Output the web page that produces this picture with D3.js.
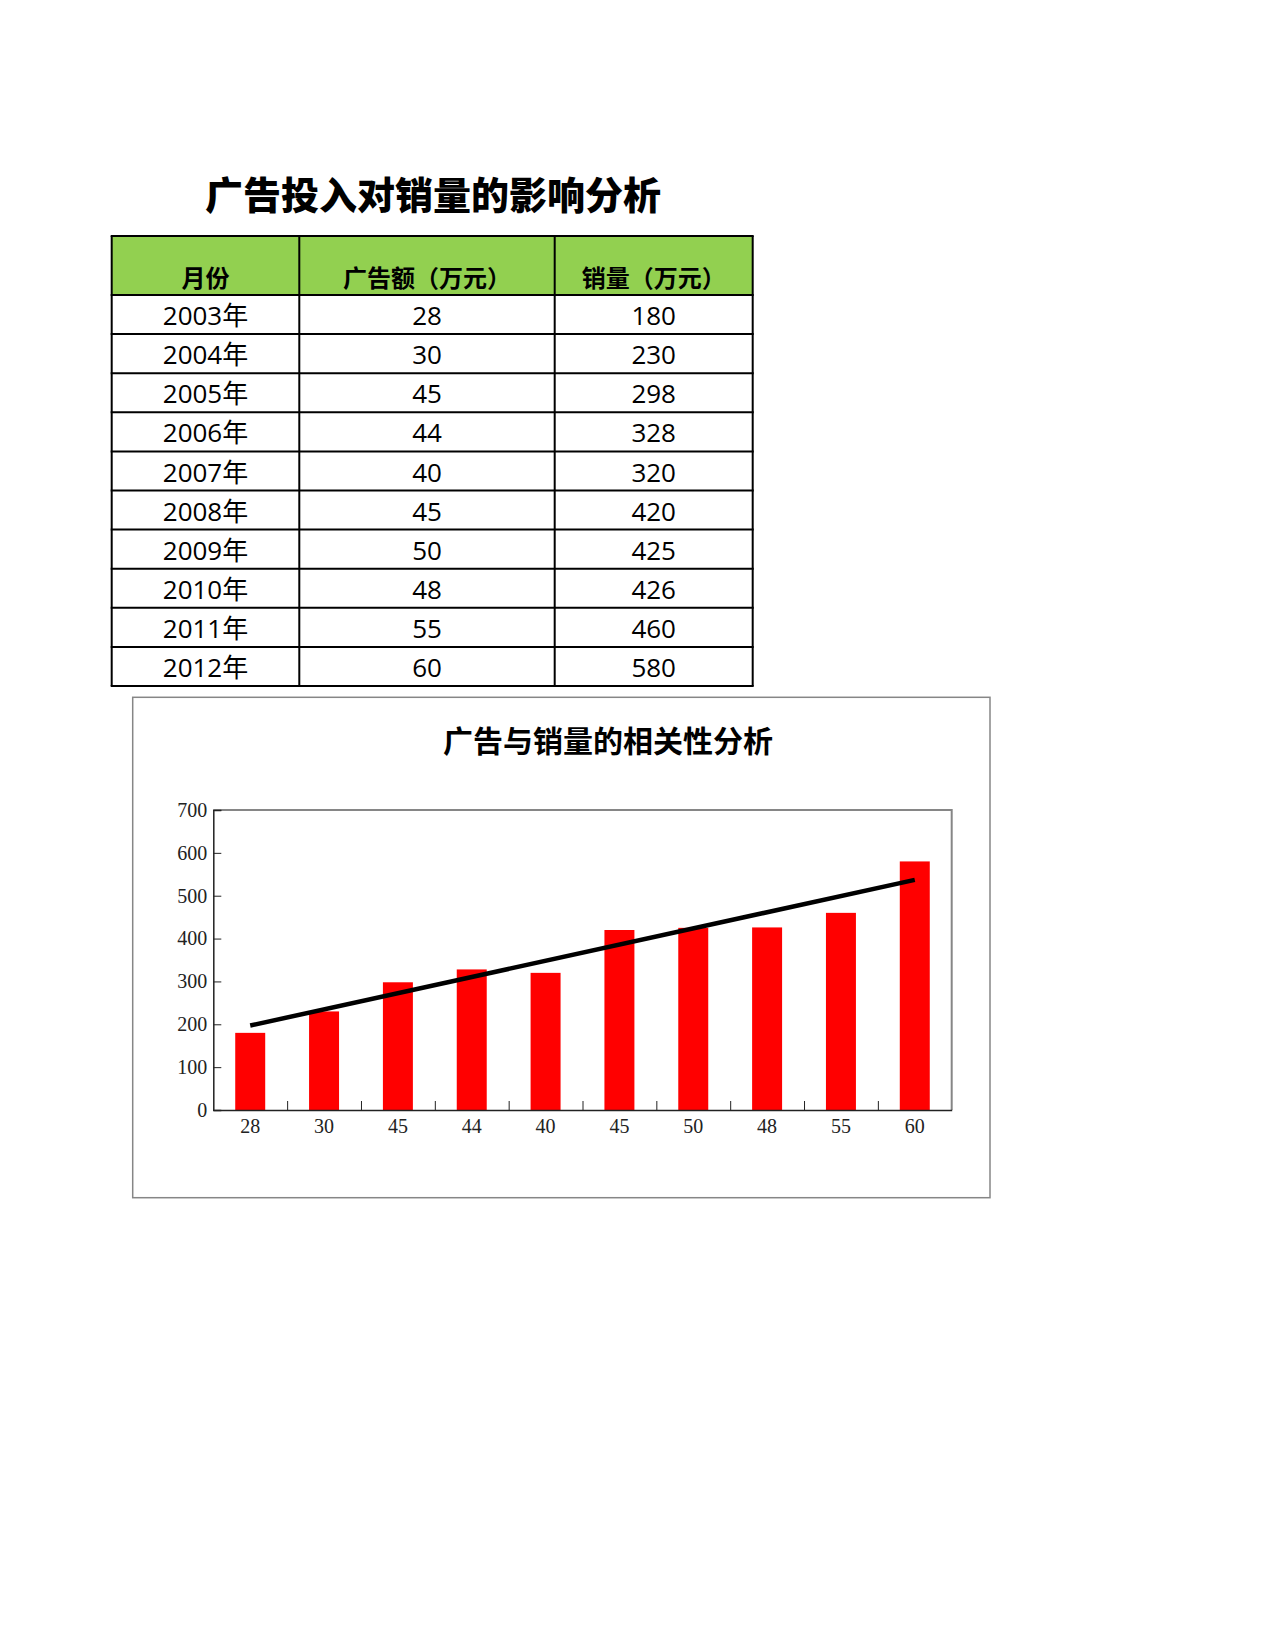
<!DOCTYPE html>
<html>
<head>
<meta charset="utf-8">
<script src="https://cdn.jsdelivr.net/npm/d3@7"></script>
<style>
    body { margin: 0; background: #fff; }
    svg { display: block; }
</style>
</head>
<body>
<div id="page"></div>
<script>
/**
 * Advertising vs sales sheet + chart
 */
var years = ["2003年", "2004年", "2005年", "2006年", "2007年", "2008年", "2009年", "2010年", "2011年", "2012年"];
var adSpend = [28, 30, 45, 44, 40, 45, 50, 48, 55, 60];
var sales = [180, 230, 298, 328, 320, 420, 425, 426, 460, 580];
var headers = ["月份", "广告额（万元）", "销量（万元）"];
var yTicks = [0, 100, 200, 300, 400, 500, 600, 700];
// trend line end values
var trendEnds = [197, 537];

(function () {

    var W = 1275, H = 1650;
    var svg = d3.select("#page").append("svg")
        .attr("width", W)
        .attr("height", H);

    svg.append("rect").attr("width", W).attr("height", H).attr("fill", "#fff");

    var cjk = "'Noto Sans CJK SC', 'Noto Sans', sans-serif";
    var cellFont = "'Open Sans', 'Noto Sans CJK SC', sans-serif";

    // sheet title
    svg.append("text")
        .attr("x", 433)
        .attr("y", 209)
        .attr("text-anchor", "middle")
        .style("font-family", cjk)
        .style("font-weight", 900)
        .style("font-size", "38px")
        .text("广告投入对销量的影响分析");

    // table
    var colX = [111.7, 299.3, 554.7, 752.7];
    var headTop = 236, headBottom = 295, rowH = 39.1;
    var rows = years.map(function (y, i) { return [y, adSpend[i], sales[i]]; });
    var tableBottom = headBottom + rowH * rows.length;

    svg.append("rect")
        .attr("x", colX[0]).attr("y", headTop)
        .attr("width", colX[3] - colX[0]).attr("height", headBottom - headTop)
        .attr("fill", "#92d050");

    headers.forEach(function (h, c) {
        svg.append("text")
            .attr("x", (colX[c] + colX[c + 1]) / 2)
            .attr("y", headBottom - 8)
            .attr("text-anchor", "middle")
            .style("font-family", cjk)
            .style("font-weight", 700)
            .style("font-size", "24px")
            .text(h);
    });

    var rowG = svg.append("g").selectAll("g")
        .data(rows)
        .join("g")
        .attr("transform", function (d, i) { return "translate(0," + (headBottom + rowH * (i + 1)) + ")"; });

    rowG.selectAll("text")
        .data(function (d) { return d; })
        .join("text")
        .attr("x", function (d, c) { return (colX[c] + colX[c + 1]) / 2; })
        .attr("y", -9)
        .attr("text-anchor", "middle")
        .style("font-family", cellFont)
        .style("font-size", "26px")
        .attr("fill", "#000")
        .text(function (d) { return d; });

    var grid = svg.append("g").attr("stroke", "#000").attr("stroke-width", 2);
    d3.range(rows.length + 2).forEach(function (i) {
        var y = i === 0 ? headTop : headBottom + rowH * (i - 1);
        grid.append("line").attr("x1", colX[0] - 1).attr("x2", colX[3] + 1).attr("y1", y).attr("y2", y);
    });
    colX.forEach(function (x) {
        grid.append("line").attr("x1", x).attr("x2", x).attr("y1", headTop).attr("y2", tableBottom);
    });

    // chart frame
    var frame = { left: 132.7, top: 697.3, right: 990, bottom: 1197.7 };
    svg.append("rect")
        .attr("x", frame.left).attr("y", frame.top)
        .attr("width", frame.right - frame.left).attr("height", frame.bottom - frame.top)
        .attr("fill", "#fff")
        .attr("stroke", "#868686")
        .attr("stroke-width", 1.5);

    svg.append("text")
        .attr("x", 608)
        .attr("y", 752)
        .attr("text-anchor", "middle")
        .style("font-family", cjk)
        .style("font-weight", 700)
        .style("font-size", "30px")
        .text("广告与销量的相关性分析");

    var plot = { left: 213.3, top: 810, right: 951.7, bottom: 1110 };

    var x = d3.scaleBand()
        .domain(d3.range(sales.length))
        .range([plot.left, plot.right])
        .paddingInner(0.594)
        .paddingOuter(0.297);

    var xBand = d3.scaleBand()
        .domain(d3.range(sales.length))
        .range([plot.left, plot.right]);

    var y = d3.scaleLinear()
        .domain([0, 700])
        .range([plot.bottom, plot.top]);

    // top / right border of plot area
    svg.append("path")
        .attr("d", "M" + plot.left + "," + plot.top + "H" + plot.right + "V" + plot.bottom)
        .attr("fill", "none")
        .attr("stroke", "#868686")
        .attr("stroke-width", 2);

    svg.append("g")
        .selectAll("rect")
        .data(sales)
        .join("rect")
        .attr("x", function (d, i) { return x(i); })
        .attr("y", function (d) { return y(d); })
        .attr("width", x.bandwidth())
        .attr("height", function (d) { return y(0) - y(d); })
        .attr("fill", "#ff0000");

    var serif = "'Liberation Serif', 'DejaVu Serif', serif";

    var yAxis = svg.append("g")
        .attr("transform", "translate(" + plot.left + ",0)")
        .call(d3.axisRight(y).tickValues(yTicks).tickSize(8).tickFormat(d3.format("d")));
    yAxis.select(".domain").attr("stroke", "#222").attr("stroke-width", 1.5);
    yAxis.selectAll(".tick line").attr("stroke", "#222");
    yAxis.selectAll(".tick text")
        .attr("x", -6)
        .attr("text-anchor", "end")
        .style("font-family", serif)
        .style("font-size", "20px")
        .attr("fill", "#222");

    // category axis: ticks at band edges pointing up
    var edges = d3.range(1, sales.length).map(function (i) { return xBand(i); });
    var xAxis = svg.append("g")
        .attr("transform", "translate(0," + plot.bottom + ")")
        .call(d3.axisBottom(d3.scaleLinear().domain([plot.left, plot.right]).range([plot.left, plot.right]))
            .tickValues(edges).tickSize(-9).tickSizeOuter(0).tickFormat(""));
    xAxis.select(".domain").attr("stroke", "#222").attr("stroke-width", 1.5);
    xAxis.selectAll(".tick line").attr("stroke", "#222");

    svg.append("g")
        .selectAll("text")
        .data(adSpend)
        .join("text")
        .attr("x", function (d, i) { return xBand(i) + xBand.bandwidth() / 2; })
        .attr("y", plot.bottom + 23)
        .attr("text-anchor", "middle")
        .style("font-family", serif)
        .style("font-size", "20px")
        .attr("fill", "#222")
        .text(function (d) { return d; });

    // trend line
    var mid = function (i) { return xBand(i) + xBand.bandwidth() / 2; };
    svg.append("line")
        .attr("x1", mid(0)).attr("y1", y(trendEnds[0]))
        .attr("x2", mid(sales.length - 1)).attr("y2", y(trendEnds[1]))
        .attr("stroke", "#000")
        .attr("stroke-width", 4.5);

})();
</script>
</body>
</html>
